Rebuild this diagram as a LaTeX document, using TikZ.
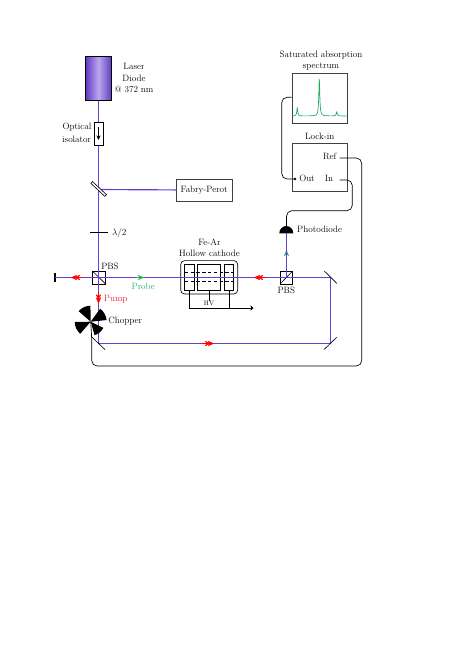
\documentclass[tikz,border=0pt]{standalone}
\usepackage{amsmath}
\usetikzlibrary{arrows.meta}
\definecolor{beam}{RGB}{106,62,214}
\definecolor{sigred}{RGB}{240,30,40}
\definecolor{siggreen}{RGB}{30,175,100}
\tikzset{
  beamline/.style={draw=beam,line width=1.5pt},
  wire/.style={black,line width=0.85pt,rounded corners=7pt},
  optic/.style={black,line width=0.8pt},
  lbl/.style={inner sep=0pt,font=\fontsize{11.8}{14}\selectfont},
  redtip/.style={red,-{Stealth[length=8pt,width=7pt,sep=-4pt]Stealth[length=8pt,width=7pt]}},
  greentip/.style={siggreen,-{Stealth[length=8pt,width=6.5pt]}},
  pt/.style={inner sep=0pt,minimum size=0pt},
  box/.style={draw=black!75,line width=1.1pt,inner sep=0pt,anchor=north west},
}
\begin{document}
\begin{tikzpicture}[x=0.0453cm,y=-0.0453cm]
        \useasboundingbox (0,0) rectangle (463,656);
        \def\bx{98.5} \def\yprobe{277.5} \def\ypump{343.5}

        % laser
        \node (laser) [draw=black,line width=1pt,minimum width=26.3*0.0453cm,minimum height=44.7*0.0453cm,inner sep=0pt,
          left color=beam!90!black,right color=beam!90!black,middle color=beam!45!white] at (\bx,78.4) {};
        \node[lbl] (laserA) at (134,66) {Laser};
        \node[lbl] (laserB) at (134,78) {Diode};
        \node[lbl] (laserC) at (134,89.5) {@ 372 nm};

        % named points on the beam
        \node[pt] (bs) at (\bx,189.5) {};
        \node[pt] (pbsa) at (\bx,\yprobe) {};
        \node[pt] (pbsb) at (286.5,\yprobe) {};
        \node[pt] (stop) at (54.7,\yprobe) {};
        \node[pt] (mirA) at (\bx,\ypump) {};
        \node[pt] (mirB) at (330.5,\ypump) {};
        \node[pt] (mirC) at (330.5,\yprobe) {};

        \node[box] (fabry) at (176,178.5) [minimum width=55.5*0.0453cm,minimum height=22*0.0453cm] {};
        \node[lbl] (fabrylbl) at (fabry.center) {Fabry-Perot};

        % PBS 1
        \draw[optic] (92.4,271) rectangle (105.7,284);
        \draw[optic] (92.4,271) -- (105.7,284);
        \node[lbl] (pbslblA) at (110,266.3) {PBS};
        \draw[black,line width=2.2pt] (stop.center)+(0,-4.7) -- +(0,4.7);

        % PBS 2
        \draw[optic] (280,271) rectangle (292.7,284);
        \draw[optic] (280,284) -- (292.7,271);
        \node[lbl] (pbslblB) at (286.3,290) {PBS};

        % cell
        \node (cell) [draw=black,rounded corners=5pt,line width=0.85pt,minimum width=57*0.0453cm,minimum height=33.3*0.0453cm,inner sep=0pt] at (209.2,277.3) {};
        \foreach \xa/\xb in {184.7/194,197.7/220.7,224.3/233.3}{
          \draw[optic] (\xa,264.3) rectangle (\xb,290.3);
        }
        \draw[optic,dash pattern=on 4.5pt off 3pt] (184.7,272.7) -- (233.3,272.7);
        \draw[optic,dash pattern=on 4.5pt off 3pt] (184.7,281.7) -- (233.3,281.7);
        \node[lbl] (cellA) at (209.5,242) {Fe-Ar};
        \node[lbl] (cellB) at (209.5,253.5) {Hollow cathode};

        % the beam
        \draw[beamline] (laser.south) -- (mirA.center) -- (mirB.center) -- (mirC.center) -- (stop.center);
        \draw[beamline] (bs.center) -- (fabry.west);

        % isolator
        \node (iso) [draw=black,fill=white,line width=0.9pt,minimum width=9*0.0453cm,minimum height=22.7*0.0453cm,inner sep=0pt] at (\bx,133.6) {};
        \draw[black,line width=1.6pt,-{Stealth[length=6pt,width=5.5pt]}] (\bx,127) -- (\bx,140);
        \node[lbl] (isoA) at (77,127.5) {Optical};
        \node[lbl] (isoB) at (76.7,139) {isolator};

        % beam sampler
        \draw[optic,fill=white] (90.9,183.4) -- (92.5,181.6) -- (106.5,194.6) -- (104.9,196.4) -- cycle;

        % waveplate
        \draw[black,line width=0.9pt] (90,232.7) -- (107.7,232.7);
        \node[lbl] (wp) at (119.3,232.7) {$\lambda/2$};

        % arrows along the beam
        \draw[redtip] (83,\yprobe) -- (71,\yprobe);
        \draw[redtip] (266,\yprobe) -- (254,\yprobe);
        \draw[redtip] (202,\ypump) -- (214,\ypump);
        \draw[redtip] (\bx,291.5) -- (\bx,303.5);
        \draw[greentip] (136,\yprobe) -- (144,\yprobe);
        \draw[greentip] (286.5,258) -- (286.5,250);
        \node[lbl,text=siggreen] (probe) at (143.3,286.3) {Probe};
        \node[lbl,text=sigred] (pump) at (115.7,299) {Pump};

        % hv wiring
        \coordinate (gnd) at (253.5,308);
        \draw[optic,-{Stealth[length=4pt,width=7pt]}] (189.3,290.3) -- (189.3,308) -- (gnd);
        \draw[optic] (229,290.3) -- (229,308);
        \node[lbl,font=\fontsize{8.5}{9}\selectfont] (hv) at (209,303.3) {HV};
        \draw[optic] (209,290.3) -- (hv.north);

        % chopper
        \node[lbl] (chopper) at (125.3,321) {Chopper};
        \coordinate (chop) at (90.7,321.7);
        \foreach \ang/\rad in {-115/16,-30/16,50/14,155/16}{
          \fill[black] (chop) -- +(\ang-24:\rad) arc (\ang-24:\ang+24:\rad) -- cycle;
        }

        % pump mirrors
        \draw[optic] (91.7,336.9) -- (105,349.6);
        \draw[optic] (324.3,271) -- (336.7,283.3);
        \draw[optic] (324.3,349.3) -- (336.7,337.3);

        % photodiode
        \node[pt] (pd) at (286.5,233.3) {};
        \fill[black] (279.3,233.3) arc (180:360:7 and 7.3) -- cycle;
        \draw[beamline] (pbsb.center) -- (pd.center);
        \node[lbl] (pdlbl) at (319.7,229.5) {Photodiode};

        % spectrum
        \node[box] (spec) at (291.7,72.7) [minimum width=55.3*0.0453cm,minimum height=50*0.0453cm] {};
        \draw[siggreen,line width=0.9pt,domain=292:346.7,samples=220,smooth,variable=\t]
          plot ({\t},{116-8/(1+((\t-297.3)/0.6)^2)-37/(1+((\t-319.3)/0.6)^2)-4/(1+((\t-336.7)/0.6)^2)});
        \node[lbl] (specA) at (321,55) {Saturated absorption};
        \node[lbl] (specB) at (321,66.5) {spectrum};

        % lock-in
        \node[box] (lock) at (291.7,142.7) [minimum width=55.3*0.0453cm,minimum height=48.3*0.0453cm] {};
        \node[lbl] (locklbl) at (319.7,136) {Lock-in};
        \node[lbl] (ref) at (329.7,156) {Ref};
        \node[lbl] (lin) at (329,178) {In};
        \node[lbl] (out) at (307,178) {Out};
        \fill[black] (295,179) circle (1.3);
        \coordinate (outdot) at (295,179);
        \coordinate (refend) at (339.5,158);
        \coordinate (inend) at (339.5,180);

        \draw[wire] (outdot) -- (281.7,179) -- (281.7,97.3) -- (spec.west |- 0,97.3);
        \draw[wire] (refend) -- (361.7,158) -- (361.7,366) -- (91.7,366) -- (91.7,337.3) -- (chop);
        \draw[wire] (inend) -- (352.3,180) -- (352.3,210.7) -- (286.5,210.7) -- (286.5,226.5);
\end{tikzpicture}
\end{document}
